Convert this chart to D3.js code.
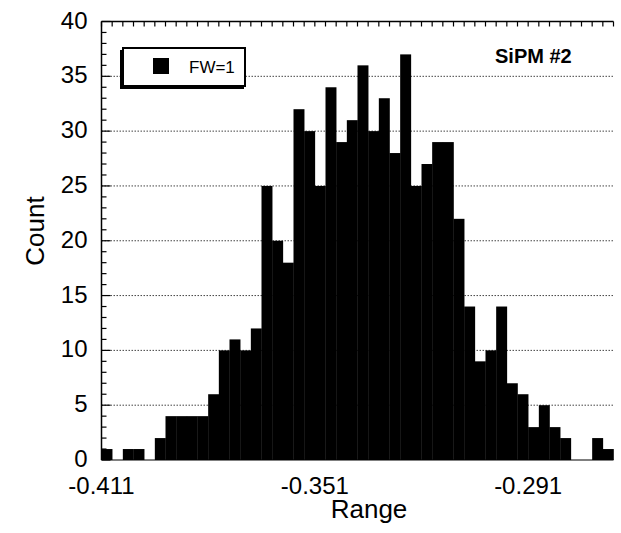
<!DOCTYPE html>
<html>
<head>
<meta charset="utf-8">
<script src="https://cdn.jsdelivr.net/npm/d3@7"></script>
<style>
  body { margin: 0; background: #fff; }
  svg text { font-family: "Liberation Sans", Arial, sans-serif; fill: #000; }
</style>
</head>
<body>
<div id="chart"></div>
<script>
// histogram bins: start of first bin and bin width (Range units)
const binStart = -0.411;
const binWidth = 0.003;
// counts per bin
const counts = [1, 0, 1, 1, 0, 2, 4, 4, 4, 4, 6, 10, 11, 10, 12, 25, 20, 18, 32, 30,
                25, 34, 29, 31, 36, 30, 33, 28, 37, 25, 27, 29, 29, 22, 14, 9, 10, 14, 7, 6,
                3, 5, 3, 2, 0, 0, 2, 1];
const xDomain = [-0.411, -0.267];
const xTickValues = [-0.411, -0.351, -0.291];
const yTickValues = [0, 5, 10, 15, 20, 25, 30, 35, 40];
const gridValues = [5, 10, 15, 20, 25, 30, 35];
const legendLabel = "FW=1";
const title = "SiPM #2";

const width = 621, height = 533;
const margin = { left: 101.5, right: 7.5, top: 21.5, bottom: 73 };

const svg = d3.select("#chart").append("svg")
  .attr("width", width)
  .attr("height", height);

const x = d3.scaleLinear().domain(xDomain).range([margin.left, width - margin.right]);
const y = d3.scaleLinear().domain([0, 40]).range([height - margin.bottom, margin.top]);

// dotted gridlines (behind bars)
svg.append("g").selectAll("line")
  .data(gridValues)
  .join("line")
  .attr("x1", x.range()[0]).attr("x2", x.range()[1])
  .attr("y1", d => y(d)).attr("y2", d => y(d))
  .attr("stroke", "#444")
  .attr("stroke-width", 1)
  .attr("stroke-dasharray", "1.5,1.5");

// bars
const bins = counts.map((c, i) => ({ x0: binStart + i * binWidth, x1: binStart + (i + 1) * binWidth, n: c }));
svg.append("g").selectAll("rect")
  .data(bins.filter(d => d.n > 0))
  .join("rect")
  .attr("x", d => x(d.x0))
  .attr("width", d => x(d.x1) - x(d.x0) + 0.3)
  .attr("y", d => y(d.n))
  .attr("height", d => y(0) - y(d.n))
  .attr("fill", "#000");

// left axis with inward minor ticks
const yMinor = d3.range(0, 41, 1);
const leftAxis = svg.append("g");
leftAxis.append("line")
  .attr("x1", x.range()[0]).attr("x2", x.range()[0])
  .attr("y1", y(0)).attr("y2", y(40))
  .attr("stroke", "#000").attr("stroke-width", 1.5);
leftAxis.selectAll("line.tick")
  .data(yMinor)
  .join("line")
  .attr("class", "tick")
  .attr("x1", x.range()[0])
  .attr("x2", d => x.range()[0] + (d % 5 === 0 ? 9 : 5))
  .attr("y1", d => y(d)).attr("y2", d => y(d))
  .attr("stroke", "#000").attr("stroke-width", 1.2);
leftAxis.selectAll("text")
  .data(yTickValues)
  .join("text")
  .attr("x", x.range()[0] - 14)
  .attr("y", d => y(d) + 7)
  .attr("text-anchor", "end")
  .attr("font-size", 24)
  .text(d => d);

// top axis with inward ticks at bin edges
const topAxis = svg.append("g");
topAxis.append("line")
  .attr("x1", x.range()[0]).attr("x2", x.range()[1])
  .attr("y1", y(40)).attr("y2", y(40))
  .attr("stroke", "#000").attr("stroke-width", 1.5);
topAxis.selectAll("line.tick")
  .data(d3.range(counts.length + 1))
  .join("line")
  .attr("class", "tick")
  .attr("x1", i => x(binStart + i * binWidth)).attr("x2", i => x(binStart + i * binWidth))
  .attr("y1", y(40)).attr("y2", y(40) + 5)
  .attr("stroke", "#000").attr("stroke-width", 1.2);

// bottom axis
const bottomAxis = svg.append("g");
bottomAxis.append("line")
  .attr("x1", x.range()[0]).attr("x2", x.range()[1])
  .attr("y1", y(0)).attr("y2", y(0))
  .attr("stroke", "#000").attr("stroke-width", 1.2);
bottomAxis.selectAll("text")
  .data(xTickValues)
  .join("text")
  .attr("x", d => x(d))
  .attr("y", y(0) + 34)
  .attr("text-anchor", "middle")
  .attr("font-size", 24)
  .text(d => d3.format(".3f")(d).replace("−", "-"));

// axis titles
svg.append("text")
  .attr("x", 369)
  .attr("y", y(0) + 58)
  .attr("text-anchor", "middle")
  .attr("font-size", 26)
  .text("Range");
svg.append("text")
  .attr("transform", `translate(44, 231) rotate(-90)`)
  .attr("text-anchor", "middle")
  .attr("font-size", 26)
  .text("Count");

// legend box with shadow
const lg = svg.append("g");
lg.append("rect")
  .attr("x", 120).attr("y", 50).attr("width", 124).attr("height", 39)
  .attr("fill", "#000");
lg.append("rect")
  .attr("x", 123).attr("y", 48).attr("width", 122).attr("height", 38)
  .attr("fill", "#fff").attr("stroke", "#000").attr("stroke-width", 2);
lg.append("rect")
  .attr("x", 153).attr("y", 58).attr("width", 16).attr("height", 16)
  .attr("fill", "#000");
lg.append("text")
  .attr("x", 189).attr("y", 73)
  .attr("font-size", 17)
  .text(legendLabel);

svg.append("text")
  .attr("x", 495).attr("y", 63)
  .attr("font-size", 20)
  .attr("font-weight", "bold")
  .text(title);
</script>
</body>
</html>
